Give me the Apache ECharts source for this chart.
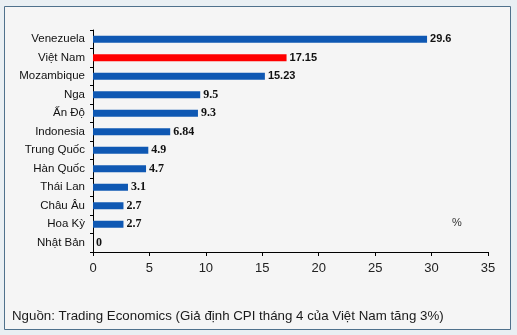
<!DOCTYPE html>
<html>
<head>
<meta charset="utf-8">
<script src="https://cdn.jsdelivr.net/npm/echarts@6/dist/echarts.min.js"></script>
<style>
  html, body { margin: 0; padding: 0; background: #e9eff3; }
  #chart { width: 517px; height: 335px; }
</style>
</head>
<body>
<div id="chart"></div>
<script>
// Inflation comparison by country (%)
const countries = ['Venezuela', 'Việt Nam', 'Mozambique', 'Nga', 'Ấn Độ', 'Indonesia',
  'Trung Quốc', 'Hàn Quốc', 'Thái Lan', 'Châu Âu', 'Hoa Kỳ', 'Nhật Bản'];
const inflation = [29.6, 17.15, 15.23, 9.5, 9.3, 6.84, 4.9, 4.7, 3.1, 2.7, 2.7, 0];
const valueText = ['29.6', '17.15', '15.23', '9.5', '9.3', '6.84', '4.9', '4.7', '3.1', '2.7', '2.7', '0'];
const highlight = 'Việt Nam';
const xTicks = { min: 0, max: 35, step: 5 };
const unitLabel = '%';
const sourceNote = 'Nguồn: Trading Economics (Giả định CPI tháng 4 của Việt Nam tăng 3%)';

const BLUE = '#0f58b3';
const RED = '#ff0000';

const barData = inflation.map((v, i) => {
  const big = v >= 15;
  return {
    value: v,
    itemStyle: { color: countries[i] === highlight ? RED : BLUE },
    label: {
      fontFamily: big ? 'Liberation Sans' : 'Liberation Serif',
      fontSize: big ? 11 : 12
    }
  };
});

const chart = echarts.init(document.getElementById('chart'), null, { renderer: 'canvas' });
chart.setOption({
  backgroundColor: '#e9eff3',
  animation: false,
  grid: { left: 93, right: 29, top: 30, bottom: 83, containLabel: false },
  graphic: [
    {
      type: 'rect', z: -10,
      shape: { x: 4.5, y: 6.5, width: 506, height: 323 },
      style: { fill: '#f5f5f5', stroke: '#4f718c', lineWidth: 1 }
    },
    {
      type: 'text', left: 12, top: 310,
      style: { text: sourceNote, font: '13.3px "Liberation Sans", Arial, sans-serif', fill: '#1a1a1a' }
    },
    {
      type: 'text', left: 452, top: 217,
      style: { text: unitLabel, font: '11px "Liberation Sans", Arial, sans-serif', fill: '#333' }
    }
  ],
  xAxis: {
    type: 'value',
    min: xTicks.min, max: xTicks.max, interval: xTicks.step,
    axisLine: { show: true, lineStyle: { color: '#000', width: 1 } },
    axisTick: { show: true, length: 4, lineStyle: { color: '#000' } },
    splitLine: { show: false },
    axisLabel: { color: '#222', fontSize: 13, fontFamily: 'Liberation Sans', margin: 10 }
  },
  yAxis: {
    type: 'category',
    data: countries,
    inverse: true,
    axisLine: { show: true, lineStyle: { color: '#000', width: 1 } },
    axisTick: { show: true, length: 3, lineStyle: { color: '#000' } },
    axisLabel: { color: '#111', fontSize: 11.5, fontFamily: 'Liberation Sans', margin: 8 }
  },
  series: [{
    type: 'bar',
    data: barData,
    barWidth: 7,
    label: {
      show: true,
      position: 'right',
      distance: 3,
      color: '#111',
      fontWeight: 'bold',
      formatter: p => valueText[p.dataIndex]
    }
  }]
});
</script>
</body>
</html>
